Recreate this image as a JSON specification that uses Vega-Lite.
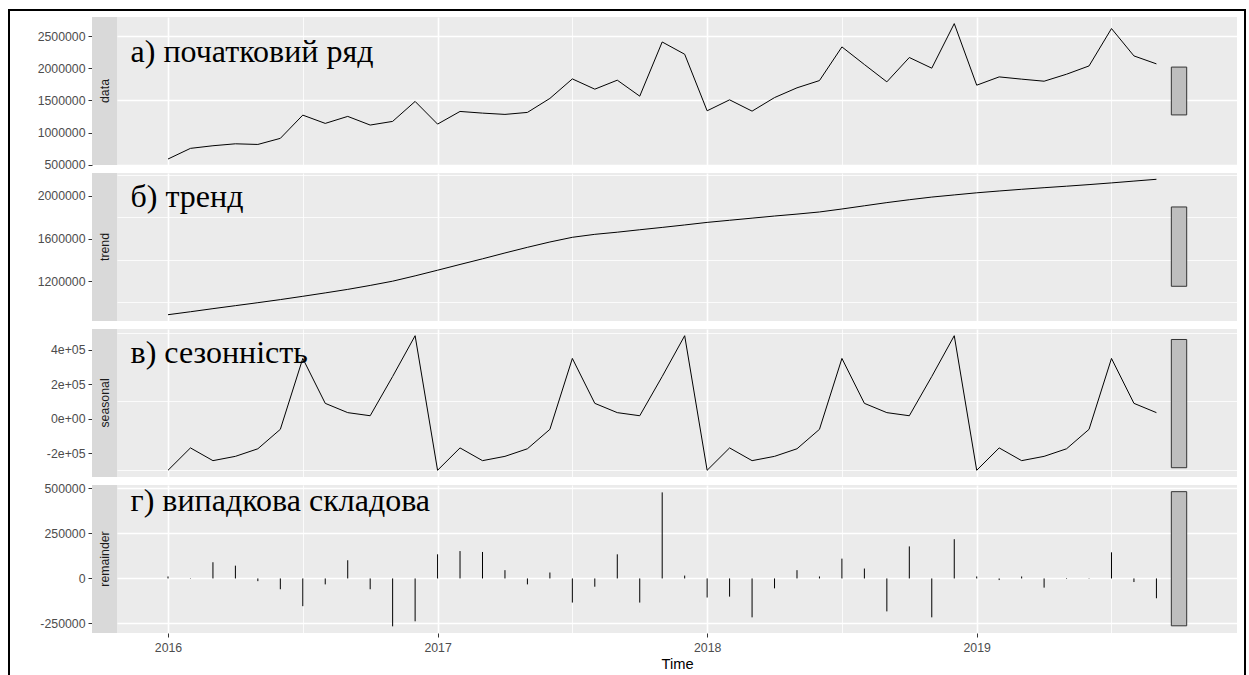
{
  "$schema": "https://vega.github.io/schema/vega-lite/v6.json",
  "padding": {"left": 8, "top": 9, "right": 0, "bottom": 0},
  "background": "#FFFFFF",
  "datasets": {
    "stl": [
      {"t": 2016.0, "data": 588000, "trend": 885000, "seasonal": -300000, "remainder": 11000},
      {"t": 2016.0833, "data": 754000, "trend": 913000, "seasonal": -170000, "remainder": 2000},
      {"t": 2016.1667, "data": 795000, "trend": 942000, "seasonal": -244000, "remainder": 90000},
      {"t": 2016.25, "data": 825000, "trend": 970000, "seasonal": -219000, "remainder": 71000},
      {"t": 2016.3333, "data": 815000, "trend": 998000, "seasonal": -175000, "remainder": -15000},
      {"t": 2016.4167, "data": 910000, "trend": 1027000, "seasonal": -62000, "remainder": -60000},
      {"t": 2016.5, "data": 1272000, "trend": 1058000, "seasonal": 350000, "remainder": -154000},
      {"t": 2016.5833, "data": 1143000, "trend": 1090000, "seasonal": 89000, "remainder": -33000},
      {"t": 2016.6667, "data": 1252000, "trend": 1123000, "seasonal": 35000, "remainder": 101000},
      {"t": 2016.75, "data": 1117000, "trend": 1160000, "seasonal": 17000, "remainder": -60000},
      {"t": 2016.8333, "data": 1174000, "trend": 1200000, "seasonal": 245000, "remainder": -266000},
      {"t": 2016.9167, "data": 1485000, "trend": 1250000, "seasonal": 482000, "remainder": -238000},
      {"t": 2017.0, "data": 1132000, "trend": 1303000, "seasonal": -300000, "remainder": 134000},
      {"t": 2017.0833, "data": 1329000, "trend": 1357000, "seasonal": -170000, "remainder": 152000},
      {"t": 2017.1667, "data": 1303000, "trend": 1410000, "seasonal": -244000, "remainder": 147000},
      {"t": 2017.25, "data": 1283000, "trend": 1465000, "seasonal": -219000, "remainder": 46000},
      {"t": 2017.3333, "data": 1314000, "trend": 1518000, "seasonal": -175000, "remainder": -33000},
      {"t": 2017.4167, "data": 1532000, "trend": 1568000, "seasonal": -62000, "remainder": 33000},
      {"t": 2017.5, "data": 1836000, "trend": 1612000, "seasonal": 350000, "remainder": -134000},
      {"t": 2017.5833, "data": 1676000, "trend": 1640000, "seasonal": 89000, "remainder": -46000},
      {"t": 2017.6667, "data": 1816000, "trend": 1660000, "seasonal": 35000, "remainder": 134000},
      {"t": 2017.75, "data": 1567000, "trend": 1683000, "seasonal": 17000, "remainder": -134000},
      {"t": 2017.8333, "data": 2411000, "trend": 1705000, "seasonal": 245000, "remainder": 478000},
      {"t": 2017.9167, "data": 2220000, "trend": 1728000, "seasonal": 482000, "remainder": 16000},
      {"t": 2018.0, "data": 1339000, "trend": 1752000, "seasonal": -300000, "remainder": -106000},
      {"t": 2018.0833, "data": 1510000, "trend": 1772000, "seasonal": -170000, "remainder": -101000},
      {"t": 2018.1667, "data": 1334000, "trend": 1792000, "seasonal": -244000, "remainder": -216000},
      {"t": 2018.25, "data": 1545000, "trend": 1812000, "seasonal": -219000, "remainder": -55000},
      {"t": 2018.3333, "data": 1697000, "trend": 1830000, "seasonal": -175000, "remainder": 46000},
      {"t": 2018.4167, "data": 1810000, "trend": 1850000, "seasonal": -62000, "remainder": 11000},
      {"t": 2018.5, "data": 2334000, "trend": 1878000, "seasonal": 350000, "remainder": 110000},
      {"t": 2018.5833, "data": 2060000, "trend": 1908000, "seasonal": 89000, "remainder": 55000},
      {"t": 2018.6667, "data": 1790000, "trend": 1938000, "seasonal": 35000, "remainder": -183000},
      {"t": 2018.75, "data": 2169000, "trend": 1965000, "seasonal": 17000, "remainder": 178000},
      {"t": 2018.8333, "data": 2003000, "trend": 1990000, "seasonal": 245000, "remainder": -216000},
      {"t": 2018.9167, "data": 2697000, "trend": 2010000, "seasonal": 482000, "remainder": 218000},
      {"t": 2019.0, "data": 1738000, "trend": 2030000, "seasonal": -300000, "remainder": 11000},
      {"t": 2019.0833, "data": 1867000, "trend": 2047000, "seasonal": -170000, "remainder": -9000},
      {"t": 2019.1667, "data": 1832000, "trend": 2063000, "seasonal": -244000, "remainder": 11000},
      {"t": 2019.25, "data": 1800000, "trend": 2078000, "seasonal": -219000, "remainder": -51000},
      {"t": 2019.3333, "data": 1909000, "trend": 2092000, "seasonal": -175000, "remainder": -3000},
      {"t": 2019.4167, "data": 2038000, "trend": 2107000, "seasonal": -62000, "remainder": 2000},
      {"t": 2019.5, "data": 2620000, "trend": 2123000, "seasonal": 350000, "remainder": 145000},
      {"t": 2019.5833, "data": 2194000, "trend": 2140000, "seasonal": 89000, "remainder": -20000},
      {"t": 2019.6667, "data": 2070000, "trend": 2157000, "seasonal": 35000, "remainder": -110000}
    ],
    "bars": [
      {"part": "data", "t0": 2019.722, "t1": 2019.779, "lo": 1275000, "hi": 2020000},
      {"part": "trend", "t0": 2019.722, "t1": 2019.779, "lo": 1152000, "hi": 1897000},
      {"part": "seasonal", "t0": 2019.722, "t1": 2019.779, "lo": -285000, "hi": 460000},
      {"part": "remainder", "t0": 2019.722, "t1": 2019.779, "lo": -263000, "hi": 482000}
    ]
  },
  "spacing": 0,
  "hconcat": [
    {
      "width": 2, "height": 666,
      "view": {"fill": "#000000", "stroke": null},
      "data": {"values": [{}]},
      "mark": {"type": "point", "opacity": 0, "size": 0},
      "encoding": {}
    },
    {
      "spacing": 6,
      "vconcat": [
        {
          "width": 1234, "height": 2,
          "view": {"fill": "#000000", "stroke": null},
          "data": {"values": [{}]},
          "mark": {"type": "point", "opacity": 0, "size": 0},
          "encoding": {}
        },
        {
          "columns": 3,
          "align": "each",
          "bounds": "flush",
          "spacing": {"row": 8, "column": 0},
          "concat": [
            {
              "width": 82, "height": 148,
              "view": {"fill": "#FFFFFF", "stroke": null},
              "data": {"values": [{}]},
              "mark": {"type": "point", "opacity": 0, "size": 0},
              "encoding": {
                "y": {"datum": 1647500, "type": "quantitative",
                  "scale": {"domain": [495000, 2800000], "nice": false, "zero": false},
                  "axis": {"values": [500000, 1000000, 1500000, 2000000, 2500000], "labelExpr": "'' + datum.value", "offset": -82, "grid": false, "domain": false, "title": null, "tickSize": 4, "labelPadding": 3}}
              }
            },
            {
              "width": 25, "height": 148,
              "view": {"fill": "#D9D9D9", "stroke": null},
              "data": {"values": [{"name": "data"}]},
              "mark": {"type": "text", "angle": 270, "align": "center", "baseline": "middle", "font": "Liberation Sans", "fontSize": 12.3, "color": "#1A1A1A"},
              "encoding": {"text": {"field": "name"}}
            },
            {
              "width": 1120, "height": 148,
              "layer": [
                {
                  "data": {"name": "stl"},
                  "mark": {"type": "line", "color": "#000000", "strokeWidth": 1},
                  "encoding": {
                    "x": {"field": "t", "type": "quantitative",
                      "scale": {"domain": [2015.8108, 2019.9656], "nice": false, "zero": false},
                      "axis": {"values": [2016, 2016.5, 2017, 2017.5, 2018, 2018.5, 2019, 2019.5], "labels": false, "ticks": false, "domain": false, "title": null, "minExtent": 0, "maxExtent": 0,
                        "gridWidth": {"condition": {"test": "datum.value % 1 !== 0", "value": 0.8}, "value": 1.6}}},
                    "y": {"field": "data", "type": "quantitative",
                      "scale": {"domain": [495000, 2800000], "nice": false, "zero": false},
                      "axis": {"values": [500000, 750000, 1000000, 1250000, 1500000, 1750000, 2000000, 2250000, 2500000, 2750000], "labels": false, "ticks": false, "domain": false, "title": null, "minExtent": 0, "maxExtent": 0,
                        "gridWidth": {"condition": {"test": "datum.value % 500000 !== 0", "value": 0.8}, "value": 1.6}}}
                  }
                },
                {
                  "data": {"name": "bars"},
                  "transform": [{"filter": "datum.part === 'data'"}],
                  "mark": {"type": "rect", "fill": "#BEBEBE", "stroke": "#333333", "strokeWidth": 1},
                  "encoding": {
                    "x": {"field": "t0", "type": "quantitative"}, "x2": {"field": "t1"},
                    "y": {"field": "lo", "type": "quantitative"}, "y2": {"field": "hi"}
                  }
                },
                {
                  "data": {"values": [{"label": "а) початковий ряд", "t": 2015.861, "v": 2104000}]},
                  "mark": {"type": "text", "align": "left", "baseline": "alphabetic", "font": "Liberation Serif", "fontSize": 32, "color": "#000000"},
                  "encoding": {
                    "x": {"field": "t", "type": "quantitative"},
                    "y": {"field": "v", "type": "quantitative"},
                    "text": {"field": "label"}
                  }
                }
              ]
            },
            {
              "width": 82, "height": 148,
              "view": {"fill": "#FFFFFF", "stroke": null},
              "data": {"values": [{}]},
              "mark": {"type": "point", "opacity": 0, "size": 0},
              "encoding": {
                "y": {"datum": 1521000, "type": "quantitative",
                  "scale": {"domain": [826000, 2216000], "nice": false, "zero": false},
                  "axis": {"values": [1200000, 1600000, 2000000], "labelExpr": "'' + datum.value", "offset": -82, "grid": false, "domain": false, "title": null, "tickSize": 4, "labelPadding": 3}}
              }
            },
            {
              "width": 25, "height": 148,
              "view": {"fill": "#D9D9D9", "stroke": null},
              "data": {"values": [{"name": "trend"}]},
              "mark": {"type": "text", "angle": 270, "align": "center", "baseline": "middle", "font": "Liberation Sans", "fontSize": 12.3, "color": "#1A1A1A"},
              "encoding": {"text": {"field": "name"}}
            },
            {
              "width": 1120, "height": 148,
              "layer": [
                {
                  "data": {"name": "stl"},
                  "mark": {"type": "line", "color": "#000000", "strokeWidth": 1},
                  "encoding": {
                    "x": {"field": "t", "type": "quantitative",
                      "scale": {"domain": [2015.8108, 2019.9656], "nice": false, "zero": false},
                      "axis": {"values": [2016, 2016.5, 2017, 2017.5, 2018, 2018.5, 2019, 2019.5], "labels": false, "ticks": false, "domain": false, "title": null, "minExtent": 0, "maxExtent": 0,
                        "gridWidth": {"condition": {"test": "datum.value % 1 !== 0", "value": 0.8}, "value": 1.6}}},
                    "y": {"field": "trend", "type": "quantitative",
                      "scale": {"domain": [826000, 2216000], "nice": false, "zero": false},
                      "axis": {"values": [1000000, 1200000, 1400000, 1600000, 1800000, 2000000, 2200000], "labels": false, "ticks": false, "domain": false, "title": null, "minExtent": 0, "maxExtent": 0,
                        "gridWidth": {"condition": {"test": "(datum.value - 1200000) % 400000 !== 0", "value": 0.8}, "value": 1.6}}}
                  }
                },
                {
                  "data": {"name": "bars"},
                  "transform": [{"filter": "datum.part === 'trend'"}],
                  "mark": {"type": "rect", "fill": "#BEBEBE", "stroke": "#333333", "strokeWidth": 1},
                  "encoding": {
                    "x": {"field": "t0", "type": "quantitative"}, "x2": {"field": "t1"},
                    "y": {"field": "lo", "type": "quantitative"}, "y2": {"field": "hi"}
                  }
                },
                {
                  "data": {"values": [{"label": "б) тренд", "t": 2015.861, "v": 1894000}]},
                  "mark": {"type": "text", "align": "left", "baseline": "alphabetic", "font": "Liberation Serif", "fontSize": 32, "color": "#000000"},
                  "encoding": {
                    "x": {"field": "t", "type": "quantitative"},
                    "y": {"field": "v", "type": "quantitative"},
                    "text": {"field": "label"}
                  }
                }
              ]
            },
            {
              "width": 82, "height": 148,
              "view": {"fill": "#FFFFFF", "stroke": null},
              "data": {"values": [{}]},
              "mark": {"type": "point", "opacity": 0, "size": 0},
              "encoding": {
                "y": {"datum": 91000, "type": "quantitative",
                  "scale": {"domain": [-339000, 521000], "nice": false, "zero": false},
                  "axis": {"values": [-200000, 0, 200000, 400000], "labelExpr": "datum.value === 0 ? '0e+00' : (datum.value / 100000) + 'e+05'", "offset": -82, "grid": false, "domain": false, "title": null, "tickSize": 4, "labelPadding": 3}}
              }
            },
            {
              "width": 25, "height": 148,
              "view": {"fill": "#D9D9D9", "stroke": null},
              "data": {"values": [{"name": "seasonal"}]},
              "mark": {"type": "text", "angle": 270, "align": "center", "baseline": "middle", "font": "Liberation Sans", "fontSize": 12.3, "color": "#1A1A1A"},
              "encoding": {"text": {"field": "name"}}
            },
            {
              "width": 1120, "height": 148,
              "layer": [
                {
                  "data": {"name": "stl"},
                  "mark": {"type": "line", "color": "#000000", "strokeWidth": 1},
                  "encoding": {
                    "x": {"field": "t", "type": "quantitative",
                      "scale": {"domain": [2015.8108, 2019.9656], "nice": false, "zero": false},
                      "axis": {"values": [2016, 2016.5, 2017, 2017.5, 2018, 2018.5, 2019, 2019.5], "labels": false, "ticks": false, "domain": false, "title": null, "minExtent": 0, "maxExtent": 0,
                        "gridWidth": {"condition": {"test": "datum.value % 1 !== 0", "value": 0.8}, "value": 1.6}}},
                    "y": {"field": "seasonal", "type": "quantitative",
                      "scale": {"domain": [-339000, 521000], "nice": false, "zero": false},
                      "axis": {"values": [-300000, -200000, -100000, 0, 100000, 200000, 300000, 400000, 500000], "labels": false, "ticks": false, "domain": false, "title": null, "minExtent": 0, "maxExtent": 0,
                        "gridWidth": {"condition": {"test": "datum.value % 200000 !== 0", "value": 0.8}, "value": 1.6}}}
                  }
                },
                {
                  "data": {"name": "bars"},
                  "transform": [{"filter": "datum.part === 'seasonal'"}],
                  "mark": {"type": "rect", "fill": "#BEBEBE", "stroke": "#333333", "strokeWidth": 1},
                  "encoding": {
                    "x": {"field": "t0", "type": "quantitative"}, "x2": {"field": "t1"},
                    "y": {"field": "lo", "type": "quantitative"}, "y2": {"field": "hi"}
                  }
                },
                {
                  "data": {"values": [{"label": "в) сезонність", "t": 2015.861, "v": 322000}]},
                  "mark": {"type": "text", "align": "left", "baseline": "alphabetic", "font": "Liberation Serif", "fontSize": 32, "color": "#000000"},
                  "encoding": {
                    "x": {"field": "t", "type": "quantitative"},
                    "y": {"field": "v", "type": "quantitative"},
                    "text": {"field": "label"}
                  }
                }
              ]
            },
            {
              "width": 82, "height": 148,
              "view": {"fill": "#FFFFFF", "stroke": null},
              "data": {"values": [{}]},
              "mark": {"type": "point", "opacity": 0, "size": 0},
              "encoding": {
                "y": {"datum": 108000, "type": "quantitative",
                  "scale": {"domain": [-303000, 519000], "nice": false, "zero": false},
                  "axis": {"values": [-250000, 0, 250000, 500000], "labelExpr": "'' + datum.value", "offset": -82, "grid": false, "domain": false, "title": null, "tickSize": 4, "labelPadding": 3}}
              }
            },
            {
              "width": 25, "height": 148,
              "view": {"fill": "#D9D9D9", "stroke": null},
              "data": {"values": [{"name": "remainder"}]},
              "mark": {"type": "text", "angle": 270, "align": "center", "baseline": "middle", "font": "Liberation Sans", "fontSize": 12.3, "color": "#1A1A1A"},
              "encoding": {"text": {"field": "name"}}
            },
            {
              "width": 1120, "height": 148,
              "layer": [
                {
                  "data": {"name": "bars"},
                  "transform": [{"filter": "datum.part === 'remainder'"}],
                  "mark": {"type": "rect", "fill": "#BEBEBE", "stroke": "#333333", "strokeWidth": 1},
                  "encoding": {
                    "x": {"field": "t0", "type": "quantitative",
                      "scale": {"domain": [2015.8108, 2019.9656], "nice": false, "zero": false},
                      "axis": {"values": [2016, 2016.5, 2017, 2017.5, 2018, 2018.5, 2019, 2019.5], "title": "Time", "domain": false, "labelOverlap": false,
                        "labelExpr": "datum.value % 1 === 0 ? '' + datum.value : ''",
                        "tickSize": 4, "labelPadding": 4, "titlePadding": 3,
                        "tickOpacity": {"condition": {"test": "datum.value % 1 !== 0", "value": 0}, "value": 1},
                        "gridWidth": {"condition": {"test": "datum.value % 1 !== 0", "value": 0.8}, "value": 1.6}}},
                    "x2": {"field": "t1"},
                    "y": {"field": "lo", "type": "quantitative",
                      "scale": {"domain": [-303000, 519000], "nice": false, "zero": false},
                      "axis": {"values": [-250000, -125000, 0, 125000, 250000, 375000, 500000], "labels": false, "ticks": false, "domain": false, "title": null, "minExtent": 0, "maxExtent": 0,
                        "gridWidth": {"condition": {"test": "datum.value % 250000 !== 0", "value": 0.8}, "value": 1.6}}},
                    "y2": {"field": "hi"}
                  }
                },
                {
                  "mark": {"type": "rule", "color": "#000000", "strokeWidth": 1},
                  "encoding": {"y": {"datum": 0, "type": "quantitative"}}
                },
                {
                  "data": {"name": "stl"},
                  "mark": {"type": "rule", "color": "#000000", "strokeWidth": 1},
                  "encoding": {
                    "x": {"field": "t", "type": "quantitative"},
                    "y": {"field": "remainder", "type": "quantitative"},
                    "y2": {"datum": 0}
                  }
                },
                {
                  "data": {"values": [{"label": "г) випадкова складова", "t": 2015.861, "v": 376000}]},
                  "mark": {"type": "text", "align": "left", "baseline": "alphabetic", "font": "Liberation Serif", "fontSize": 32, "color": "#000000"},
                  "encoding": {
                    "x": {"field": "t", "type": "quantitative"},
                    "y": {"field": "v", "type": "quantitative"},
                    "text": {"field": "label"}
                  }
                }
              ]
            }
          ]
        }
      ]
    },
    {
      "width": 2, "height": 666,
      "view": {"fill": "#000000", "stroke": null},
      "data": {"values": [{}]},
      "mark": {"type": "point", "opacity": 0, "size": 0},
      "encoding": {}
    }
  ],
  "config": {
    "view": {"fill": "#EBEBEB", "stroke": null},
    "axis": {
      "labelFont": "Liberation Sans",
      "labelFontSize": 12.3,
      "labelColor": "#4D4D4D",
      "tickColor": "#333333",
      "tickWidth": 1,
      "titleFont": "Liberation Sans",
      "titleFontSize": 14.7,
      "titleFontWeight": "normal",
      "titleColor": "#000000",
      "gridColor": "#FFFFFF",
      "gridOpacity": 1
    }
  }
}
